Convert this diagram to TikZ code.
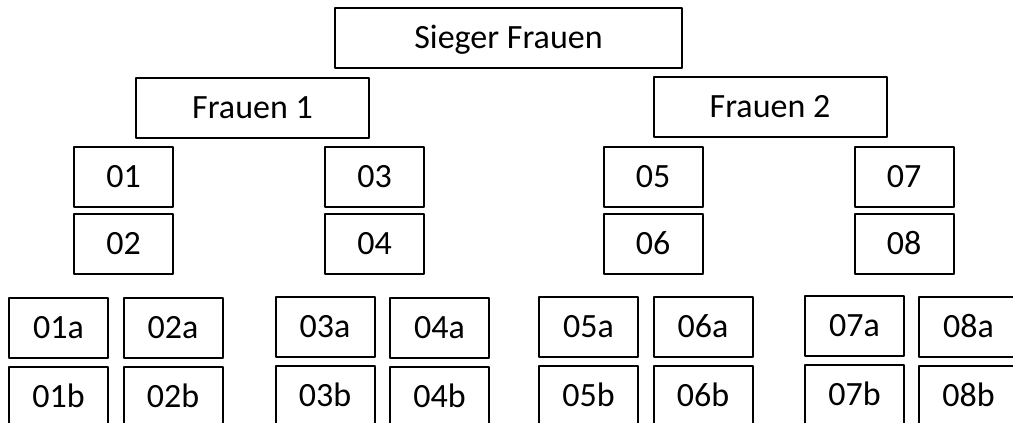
\documentclass[tikz,border=0pt]{standalone}
\usepackage{fontspec}
\setmainfont{Carlito}
\usetikzlibrary{positioning}

\tikzset{
  box/.style={draw, line width=2pt, inner sep=0pt, minimum height=60pt,
    text height=26pt, text depth=5pt,
    font=\fontsize{34}{40}\selectfont},
  topbox/.style={box, minimum width=347pt},
  halfbox/.style={box, minimum width=233pt},
  cell/.style={box, minimum width=99pt}
}

\begin{document}
\begin{tikzpicture}[x=1pt, y=-1pt, line cap=round, line join=round]

    % --- frame (picture is cut at the bottom and right) ---
    \useasboundingbox (0,0) rectangle (1013,423);
    \clip (0,0) rectangle (1013,423);

    % --- winner and the two halves ---
    \node[topbox] (sieger) at (508.5,38) {Sieger Frauen};
    \node[halfbox] (frauen1) at (252.5,108) {Frauen 1};
    \node[halfbox] (frauen2) at (770,107) {Frauen 2};

    % --- middle pairs ---
    \node[cell] (n01) at (123.5,177) {01};
    \node[cell] (n02) at (123.5,244) {02};
    \node[cell] (n03) at (374.5,177) {03};
    \node[cell] (n04) at (374.5,244) {04};
    \node[cell] (n05) at (653,176.5) {05};
    \node[cell] (n06) at (653,244) {06};
    \node[cell] (n07) at (904,176.5) {07};
    \node[cell] (n08) at (904,244) {08};

    % --- bottom row: a over b ---
    \foreach \k/\x/\y in {01/58.5/328, 02/173/328, 03/325/327, 04/439.5/328,
                          05/588.5/327, 06/703/327, 07/854.5/326, 08/968.5/327}{
      \node[cell] (b\k a) at (\x,\y) {\k a};
      \node[cell] (b\k b) at (\x,\y+68.5) {\k b};
    }

\end{tikzpicture}
\end{document}
